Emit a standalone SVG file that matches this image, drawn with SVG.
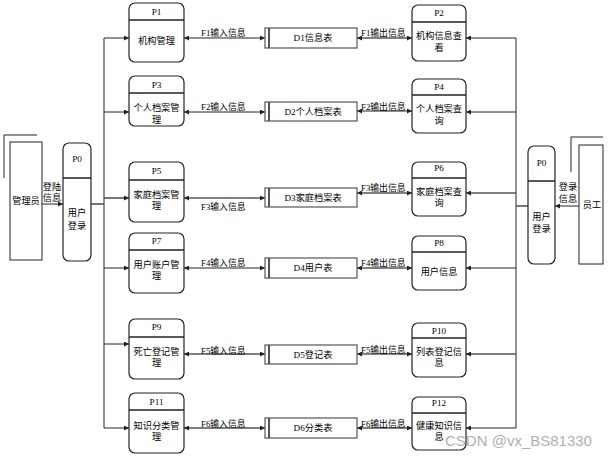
<svg xmlns="http://www.w3.org/2000/svg" width="610" height="456" viewBox="0 0 610 456">
<style>
text{font-family:"Liberation Serif","Noto Sans CJK SC",serif;font-size:9.2px;fill:#000;text-anchor:middle;dominant-baseline:central}
.lbl{text-anchor:start;font-size:8.8px}
.box{fill:#fff;stroke:#222;stroke-width:1.2}
.div{stroke:#222;stroke-width:1.5}
.ds{fill:#fff;stroke:#555;stroke-width:1.2}
.dsl{stroke:#555;stroke-width:2}
.ent{fill:#fff;stroke:#222;stroke-width:1}
.c{fill:none;stroke:#222;stroke-width:1}
.c2{fill:none;stroke:#555;stroke-width:1.6}
.wm{font-family:"Liberation Sans","Noto Sans CJK SC",sans-serif;font-size:15px;fill:#9a9a9a;fill-opacity:0.8;text-anchor:start}
</style>
<defs>
<marker id="a" viewBox="0 0 6 6" markerWidth="5" markerHeight="5" refX="6" refY="3" orient="auto-start-reverse" markerUnits="userSpaceOnUse">
<path d="M0,0 L6,3 L0,6 z" fill="#222"/>
</marker>
</defs>
<rect width="610" height="456" fill="#fff"/>

<g id="connectors">
<path class="c" d="M104,38 V428"/>
<path class="c" d="M104,38 H129" marker-end="url(#a)"/>
<path class="c" d="M104,112 H129" marker-end="url(#a)"/>
<path class="c2" d="M104,198 H129" marker-end="url(#a)"/>
<path class="c" d="M104,268 H129" marker-end="url(#a)"/>
<path class="c" d="M104,344 H129" marker-end="url(#a)"/>
<path class="c" d="M104,428 H129" marker-end="url(#a)"/>
<path class="c2" d="M91,204 H104"/>
<path class="c" d="M516,38 V428"/>
<path class="c" d="M516,38 H466" marker-end="url(#a)"/>
<path class="c" d="M516,112 H466" marker-end="url(#a)"/>
<path class="c2" d="M516,193 H466" marker-end="url(#a)"/>
<path class="c" d="M516,268 H466" marker-end="url(#a)"/>
<path class="c2" d="M516,354 H466" marker-end="url(#a)"/>
<path class="c" d="M516,428 H466" marker-end="url(#a)"/>
<path class="c2" d="M528,206 H516"/>
<path class="c" d="M42,204 H63" marker-end="url(#a)"/>
<path class="c" d="M579,206 H555" marker-end="url(#a)"/>
<path class="c" d="M184,38 H265" marker-start="url(#a)" marker-end="url(#a)"/>
<path class="c" d="M184,112 H265" marker-start="url(#a)" marker-end="url(#a)"/>
<path class="c2" d="M184,198 H265" marker-start="url(#a)" marker-end="url(#a)"/>
<path class="c" d="M184,268 H265" marker-start="url(#a)" marker-end="url(#a)"/>
<path class="c2" d="M184,354 H265" marker-start="url(#a)" marker-end="url(#a)"/>
<path class="c2" d="M184,428 H265" marker-start="url(#a)" marker-end="url(#a)"/>
<path class="c2" d="M357,38 H412" marker-start="url(#a)" marker-end="url(#a)"/>
<path class="c" d="M357,111 H412" marker-start="url(#a)" marker-end="url(#a)"/>
<path class="c2" d="M357,193 H412" marker-start="url(#a)" marker-end="url(#a)"/>
<path class="c2" d="M357,268 H412" marker-start="url(#a)" marker-end="url(#a)"/>
<path class="c2" d="M357,354 H412" marker-start="url(#a)" marker-end="url(#a)"/>
<path class="c2" d="M357,428 H412" marker-start="url(#a)" marker-end="url(#a)"/>
<text x="52" y="187">登陆</text>
<text x="52" y="198">信息</text>
<text x="568" y="187">登录</text>
<text x="568" y="199">信息</text>
<text class="lbl" x="201" y="33">F1输入信息</text>
<text class="lbl" x="201" y="107">F2输入信息</text>
<text class="lbl" x="201" y="207">F3输入信息</text>
<text class="lbl" x="201" y="263">F4输入信息</text>
<text class="lbl" x="201" y="351">F5输入信息</text>
<text class="lbl" x="201" y="424">F6输入信息</text>
<text class="lbl" x="361" y="33">F1输出信息</text>
<text class="lbl" x="361" y="107">F2输出信息</text>
<text class="lbl" x="361" y="188">F3输出信息</text>
<text class="lbl" x="361" y="263">F4输出信息</text>
<text class="lbl" x="361" y="350">F5输出信息</text>
<text class="lbl" x="361" y="424">F6输出信息</text>
</g>

<g id="E1">
<path class="c" d="M4,178 V135 H37"/>
<rect class="ent" x="10" y="142" width="32" height="118"/>
<text x="26" y="201">管理员</text>
</g>
<g id="E2">
<path class="c" d="M571,172 V137 H603"/>
<rect class="ent" x="579" y="145" width="24" height="119"/>
<text x="592" y="205">员工</text>
</g>

<g id="P0L">
<rect class="box" x="63" y="143" width="28" height="118" rx="6"/>
<line class="div" x1="63" y1="178" x2="91" y2="178"/>
<text x="77" y="159">P0</text>
<text x="77" y="213">用户</text>
<text x="77" y="226">登录</text>
</g>
<g id="P0R">
<rect class="box" x="528" y="146" width="27" height="118" rx="6"/>
<line class="div" x1="528" y1="181" x2="555" y2="181"/>
<text x="541.5" y="163">P0</text>
<text x="541.5" y="217">用户</text>
<text x="541.5" y="229">登录</text>
</g>

<g id="P1">
<rect class="box" x="129" y="3" width="55" height="59" rx="6"/>
<line class="div" x1="129" y1="20" x2="184" y2="20"/>
<text x="156.5" y="12">P1</text>
<text x="156.5" y="41">机构管理</text>
</g>
<g id="P3">
<rect class="box" x="129" y="76" width="55" height="50" rx="6"/>
<line class="div" x1="129" y1="93" x2="184" y2="93"/>
<text x="156.5" y="85">P3</text>
<text x="156.5" y="108">个人档案管</text>
<text x="156.5" y="120">理</text>
</g>
<g id="P5">
<rect class="box" x="129" y="162" width="55" height="60" rx="6"/>
<line class="div" x1="129" y1="180" x2="184" y2="180"/>
<text x="156.5" y="171">P5</text>
<text x="156.5" y="195">家庭档案管</text>
<text x="156.5" y="206">理</text>
</g>
<g id="P7">
<rect class="box" x="129" y="233" width="55" height="60" rx="6"/>
<line class="div" x1="129" y1="250" x2="184" y2="250"/>
<text x="156.5" y="241">P7</text>
<text x="156.5" y="265">用户账户管</text>
<text x="156.5" y="276">理</text>
</g>
<g id="P9">
<rect class="box" x="129" y="319" width="55" height="60" rx="6"/>
<line class="div" x1="129" y1="337" x2="184" y2="337"/>
<text x="156.5" y="327">P9</text>
<text x="156.5" y="352">死亡登记管</text>
<text x="156.5" y="363">理</text>
</g>
<g id="P11">
<rect class="box" x="129" y="393" width="55" height="60" rx="6"/>
<line class="div" x1="129" y1="410" x2="184" y2="410"/>
<text x="156.5" y="402">P11</text>
<text x="156.5" y="426">知识分类管</text>
<text x="156.5" y="437">理</text>
</g>

<g id="P2">
<rect class="box" x="412" y="5" width="54" height="56" rx="6"/>
<line class="div" x1="412" y1="22" x2="466" y2="22"/>
<text x="439" y="13">P2</text>
<text x="439" y="36">机构信息查</text>
<text x="439" y="48">看</text>
</g>
<g id="P4">
<rect class="box" x="412" y="79" width="54" height="54" rx="6"/>
<line class="div" x1="412" y1="95" x2="466" y2="95"/>
<text x="439" y="87">P4</text>
<text x="439" y="109">个人档案查</text>
<text x="439" y="121">询</text>
</g>
<g id="P6">
<rect class="box" x="412" y="162" width="54" height="54" rx="6"/>
<line class="div" x1="412" y1="178" x2="466" y2="178"/>
<text x="439" y="168">P6</text>
<text x="439" y="192">家庭档案查</text>
<text x="439" y="203">询</text>
</g>
<g id="P8">
<rect class="box" x="412" y="236" width="54" height="54" rx="6"/>
<line class="div" x1="412" y1="252" x2="466" y2="252"/>
<text x="439" y="243">P8</text>
<text x="439" y="272">用户信息</text>
</g>
<g id="P10">
<rect class="box" x="412" y="323" width="54" height="54" rx="6"/>
<line class="div" x1="412" y1="338" x2="466" y2="338"/>
<text x="439" y="331">P10</text>
<text x="439" y="352">列表登记信</text>
<text x="439" y="363">息</text>
</g>
<g id="P12">
<rect class="box" x="412" y="397" width="54" height="53" rx="6"/>
<line class="div" x1="412" y1="413" x2="466" y2="413"/>
<text x="439" y="403">P12</text>
<text x="439" y="426">健康知识信</text>
<text x="439" y="437">息</text>
</g>

<g id="D1">
<rect class="ds" x="265" y="28" width="92" height="20"/>
<line class="dsl" x1="269" y1="28" x2="269" y2="48"/>
<text x="313" y="38">D1信息表</text>
</g>
<g id="D2">
<rect class="ds" x="265" y="102" width="92" height="19"/>
<line class="dsl" x1="269" y1="102" x2="269" y2="121"/>
<text x="313" y="111.5">D2个人档案表</text>
</g>
<g id="D3">
<rect class="ds" x="265" y="188" width="92" height="19"/>
<line class="dsl" x1="269" y1="188" x2="269" y2="207"/>
<text x="313" y="197.5">D3家庭档案表</text>
</g>
<g id="D4">
<rect class="ds" x="265" y="258" width="92" height="20"/>
<line class="dsl" x1="269" y1="258" x2="269" y2="278"/>
<text x="313" y="268">D4用户表</text>
</g>
<g id="D5">
<rect class="ds" x="265" y="345" width="92" height="19"/>
<line class="dsl" x1="269" y1="345" x2="269" y2="364"/>
<text x="313" y="354.5">D5登记表</text>
</g>
<g id="D6">
<rect class="ds" x="265" y="418" width="92" height="20"/>
<line class="dsl" x1="269" y1="418" x2="269" y2="438"/>
<text x="313" y="428">D6分类表</text>
</g>

<text class="wm" x="445" y="440">CSDN @vx_BS81330</text>
</svg>
